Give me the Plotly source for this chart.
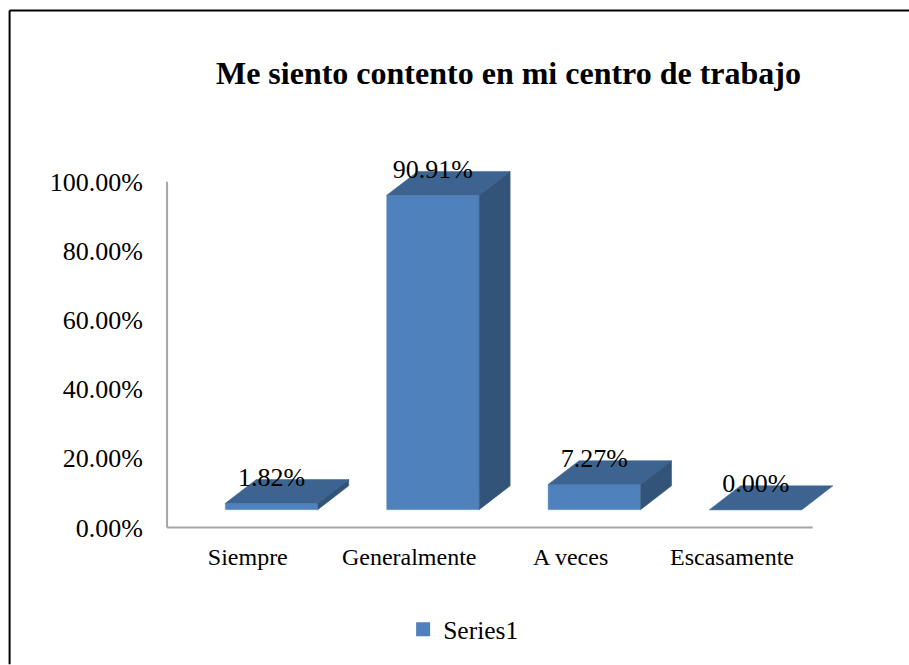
import plotly.graph_objects as go

categories = ["Siempre", "Generalmente", "A veces", "Escasamente"]
values = [1.82, 90.91, 7.27, 0.00]
labels = ["1.82%", "90.91%", "7.27%", "0.00%"]
y_ticks = [0, 20, 40, 60, 80, 100]
y_tick_labels = ["0.00%", "20.00%", "40.00%", "60.00%", "80.00%", "100.00%"]

FONT = "Liberation Serif"
FRONT = "#4F81BD"
TOP = "#3D6390"
SIDE = "#335479"
AXIS = "#A6A6A6"

# fake 3d look, everything in axis units
bar_width = 0.573
bar_shift = 0.147
floor = 5.17
depth_x = 0.192
depth_y = 6.9
label_gap = 7.0

positions = list(range(len(categories)))
fig = go.Figure()

fig.add_trace(
    go.Bar(
        x=[p + bar_shift for p in positions],
        y=values,
        base=floor,
        width=bar_width,
        marker=dict(color=FRONT, line=dict(color="#6E9AD0", width=0.5)),
        showlegend=False,
    )
)

for pos, value in zip(positions, values):
    left = pos + bar_shift - bar_width / 2
    right = pos + bar_shift + bar_width / 2
    top = floor + value
    fig.add_trace(
        go.Scatter(
            x=[left, right, right + depth_x, left + depth_x, left],
            y=[top, top, top + depth_y, top + depth_y, top],
            mode="lines",
            fill="toself",
            fillcolor=TOP,
            line=dict(color=TOP, width=0.5),
            showlegend=False,
        )
    )
    if value > 0:
        fig.add_trace(
            go.Scatter(
                x=[right, right + depth_x, right + depth_x, right, right],
                y=[floor, floor + depth_y, top + depth_y, top, floor],
                mode="lines",
                fill="toself",
                fillcolor=SIDE,
                line=dict(color=SIDE, width=0.5),
                showlegend=False,
            )
        )

fig.add_trace(
    go.Scatter(
        x=[p + bar_shift for p in positions],
        y=[floor + v + label_gap for v in values],
        mode="text",
        text=labels,
        textposition="middle center",
        textfont=dict(family=FONT, size=26, color="#000000"),
        showlegend=False,
    )
)

# only here for the legend square
fig.add_trace(
    go.Scatter(
        x=[None],
        y=[None],
        mode="markers",
        name="Series1",
        marker=dict(symbol="square", size=14, color=FRONT),
    )
)

fig.update_layout(
    width=909,
    height=665,
    autosize=False,
    margin=dict(l=159.4, r=63.7, t=160.6, b=132),
    paper_bgcolor="white",
    plot_bgcolor="white",
    font=dict(family=FONT, color="#000000"),
    title=dict(
        text="<b>Me siento contento en mi centro de trabajo</b>",
        x=0.5594,
        xanchor="center",
        y=0.891,
        yanchor="middle",
        font=dict(family=FONT, size=32, color="#000000"),
    ),
    # range is wider than the drawn axis lines so the depth faces are not clipped
    xaxis=dict(
        range=[-0.55, 3.7],
        tickvals=positions,
        ticktext=categories,
        tickfont=dict(family=FONT, size=24),
        showgrid=False,
        zeroline=False,
        showline=False,
        ticks="outside",
        ticklen=4,
        tickcolor="rgba(0,0,0,0)",
    ),
    yaxis=dict(
        range=[-1, 106],
        tickvals=y_ticks,
        ticktext=y_tick_labels,
        tickfont=dict(family=FONT, size=26),
        showgrid=False,
        zeroline=False,
        showline=False,
        ticks="outside",
        ticklen=10,
        tickcolor="rgba(0,0,0,0)",
    ),
    legend=dict(
        x=0.369,
        y=-0.267,
        xanchor="left",
        yanchor="middle",
        indentation=-9,
        font=dict(family=FONT, size=25.5),
        bgcolor="rgba(0,0,0,0)",
    ),
    shapes=[
        dict(type="line", x0=-0.5, x1=-0.5, y0=0, y1=100, layer="below", line=dict(color=AXIS, width=2)),
        dict(type="line", x0=-0.5, x1=3.5, y0=0, y1=0, layer="below", line=dict(color=AXIS, width=2)),
        # page frame
        dict(type="line", xref="paper", yref="paper", x0=-0.2178, x1=-0.2178, y0=-0.36, y1=1.407, line=dict(color="#000000", width=2)),
        dict(type="line", xref="paper", yref="paper", x0=-0.2178, x1=1.1, y0=1.407, y1=1.407, line=dict(color="#000000", width=2)),
    ],
)

# browser default body margin would push the figure 8px off
fig.write_html(
    "out.html",
    post_script="document.body.style.margin = '0';",
    config={"displayModeBar": False},
)
